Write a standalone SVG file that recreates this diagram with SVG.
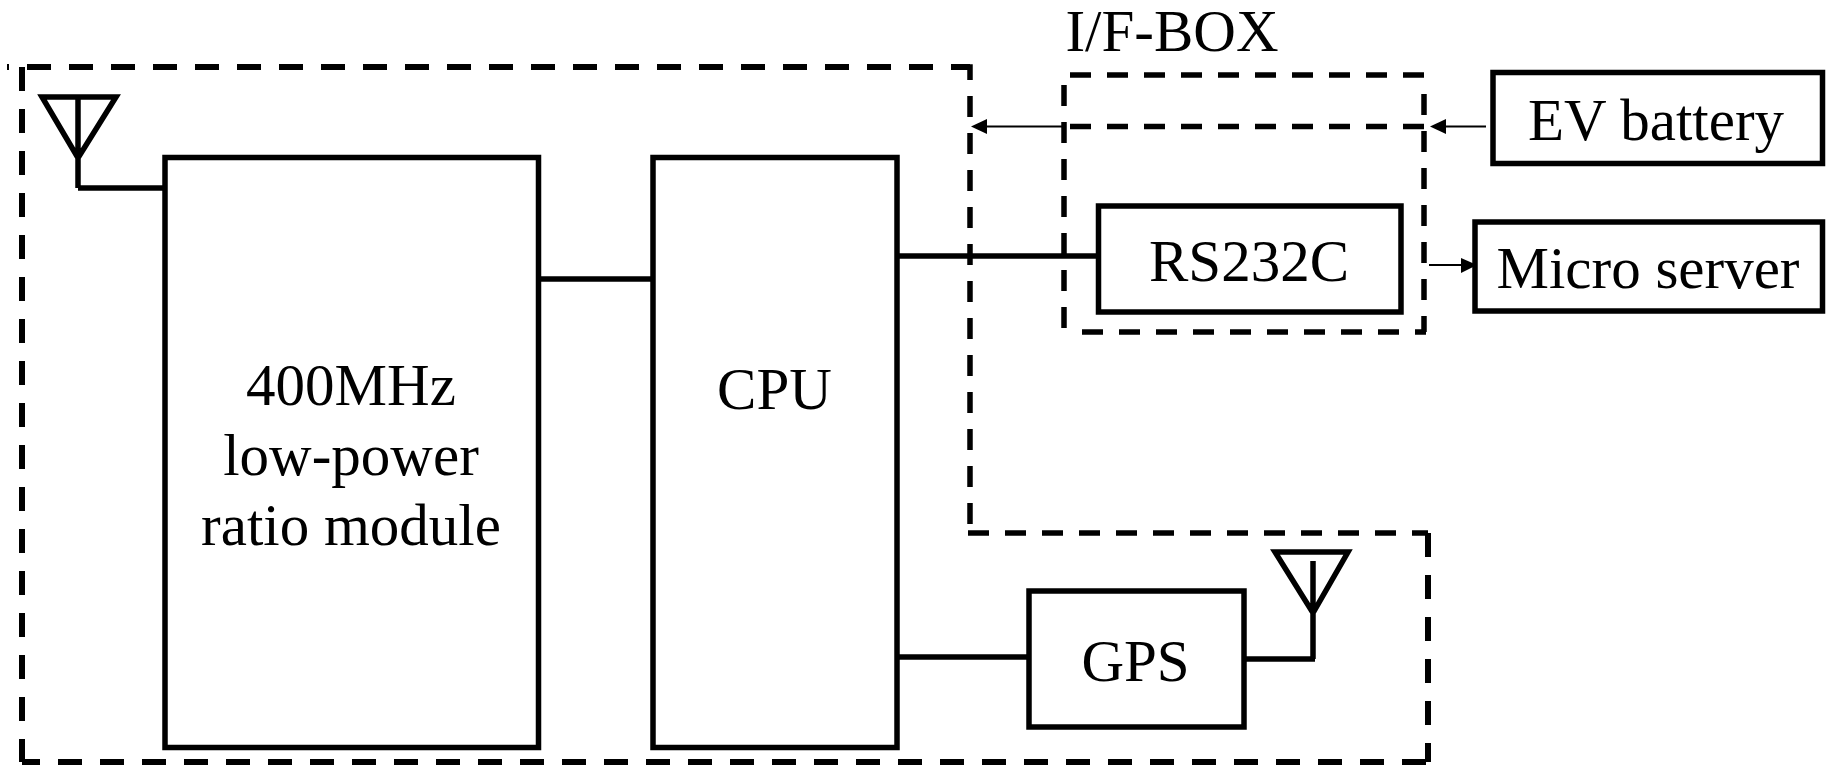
<svg xmlns="http://www.w3.org/2000/svg" width="1829" height="765" viewBox="0 0 1829 765">
<style>
.box{fill:none;stroke:#000;stroke-width:5.500}
.wire{fill:none;stroke:#000;stroke-width:5.500}
.dash{fill:none;stroke:#000;stroke-width:6;stroke-dasharray:24 18}
.dash2{fill:none;stroke:#000;stroke-width:5.500;stroke-dasharray:21 16}
.thin{fill:none;stroke:#000;stroke-width:2}
.tip{fill:#000}
text{font-family:"Liberation Serif","Times New Roman",serif;font-size:59px;fill:#000;text-anchor:middle}
</style>
<rect width="1829" height="765" fill="#fff"/>
<g id="outer-boundary">
<path class="dash" d="M27 67H970"/>
<path class="thin" d="M8 64V70"/>
<path class="dash" d="M22 67V762"/>
<path class="dash2" d="M962 67H970V533"/>
<path class="dash2" d="M968 533H1428"/>
<path class="dash" d="M1428 533V762"/>
<path class="dash" d="M1426 762H22"/>
</g>
<g id="if-box">
<text x="1172" y="51">I/F-BOX</text>
<path class="dash2" d="M1070 75H1426"/>
<path class="dash2" d="M1064 85V332"/>
<path class="dash2" d="M1424 94V332"/>
<path class="dash2" d="M1082 332H1426"/>
<path class="dash2" d="M1070 126.500H1428"/>
</g>
<g id="radio"><rect class="box" x="165" y="157.500" width="373.500" height="590"/>
<text x="351" y="404.500">400MHz</text><text x="351" y="474.500">low-power</text><text x="351" y="544.500">ratio module</text></g>
<g id="cpu"><rect class="box" x="653" y="157.500" width="244" height="590"/><text x="774.500" y="408.500">CPU</text></g>
<g id="rs232c"><rect class="box" x="1098.500" y="206" width="302.500" height="106"/><text x="1249" y="280.500">RS232C</text></g>
<g id="gps"><rect class="box" x="1029" y="591" width="215" height="136"/><text x="1135.500" y="680.500">GPS</text></g>
<g id="ev-battery"><rect class="box" x="1493" y="72.500" width="329.500" height="91"/><text x="1656" y="139.500">EV battery</text></g>
<g id="micro-server"><rect class="box" x="1475" y="222" width="347.500" height="89"/><text x="1648" y="287.500">Micro server</text></g>
<g id="antenna-1"><path class="wire" d="M42 97H116L78 158ZM78 97V188"/></g>
<g id="antenna-2"><path class="wire" d="M1275 552H1348L1313 613ZM1313 561V659"/></g>
<g id="connectors">
<path class="wire" d="M78 188H165"/>
<path class="wire" d="M538 279H653"/>
<path class="wire" d="M897 256H1098"/>
<path class="wire" d="M897 657H1029"/>
<path class="wire" d="M1244 659H1315"/>
<path class="thin" d="M985 126.500H1064"/><path class="tip" d="M971 126.500L987 119V134Z"/>
<path class="thin" d="M1444 126.500H1486"/><path class="tip" d="M1430 126.500L1446 119V134Z"/>
<path class="thin" d="M1429 265H1465"/><path class="tip" d="M1477 265L1461 258V273Z"/>
</g>
</svg>
